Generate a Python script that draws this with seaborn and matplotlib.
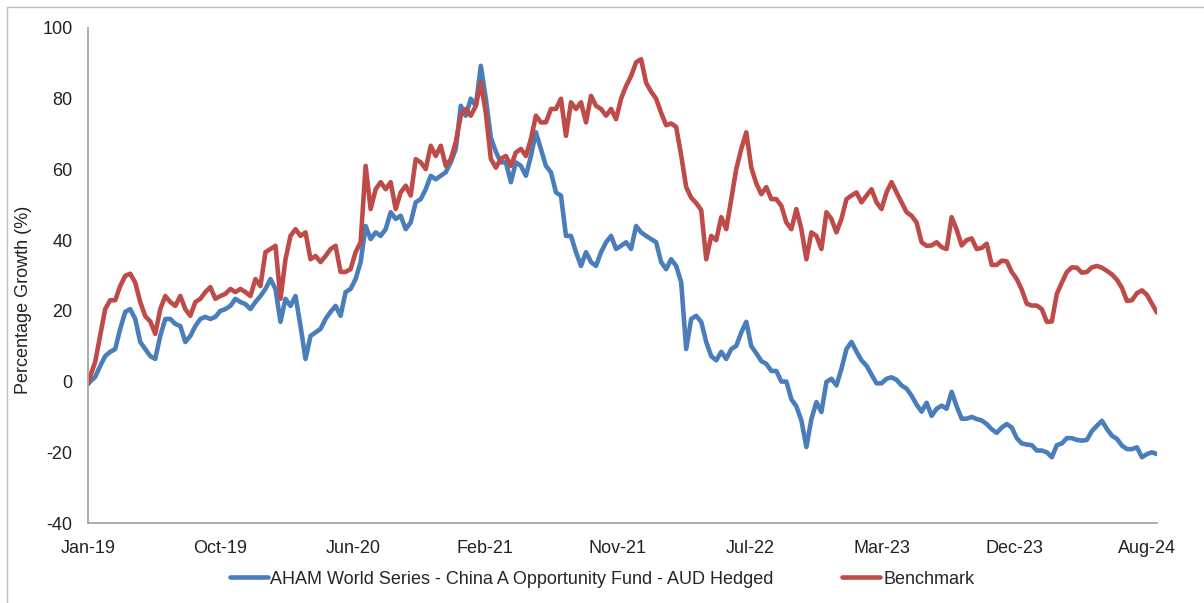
import numpy as np
import pandas as pd
import matplotlib
matplotlib.use("Agg")
import matplotlib.pyplot as plt
from matplotlib.lines import Line2D
import seaborn as sns

# --- data (percentage growth, one reading roughly every 7 trading days) ---
fund_name = "AHAM World Series - China A Opportunity Fund - AUD Hedged"
bench_name = "Benchmark"

fund_vals = [
    -0.7,
    0.0, 1.3, 4.4, 7.2, 8.4, 9.2, 14.9, 19.7, 20.5, 17.7,
    11.2, 9.2, 7.2, 6.4, 12.9, 17.7, 17.7, 16.3, 15.7, 11.2,
    12.9, 15.7, 17.7, 18.3, 17.7, 18.3, 20.0, 20.5, 21.4, 23.4,
    22.5, 21.9, 20.5, 22.5, 24.2, 26.2, 29.0, 26.2, 16.9, 23.4,
    21.4, 24.2, 15.7, 6.4, 12.9, 13.9, 14.9, 17.7, 19.7, 21.4,
    18.6, 25.3, 26.2, 29.0, 33.8, 44.0, 40.3, 42.2, 41.2, 43.1,
    47.9, 46.0, 46.9, 43.1, 45.0, 50.7, 51.6, 54.4, 58.2, 57.2,
    58.2, 59.2, 62.0, 65.8, 78.0, 75.2, 80.0, 78.0, 89.3, 80.0,
    69.0, 65.0, 62.0, 62.0, 56.4, 62.0, 61.0, 58.2, 63.8, 70.5,
    65.8, 61.0, 59.2, 53.5, 52.6, 41.2, 41.2, 36.6, 32.7, 36.6,
    33.8, 32.7, 36.6, 39.4, 41.2, 37.5, 38.4, 39.4, 37.5, 44.0,
    42.2, 41.2, 40.3, 39.4, 33.8, 31.8, 34.6, 32.7, 28.1, 9.2,
    17.7, 18.6, 16.9, 11.2, 7.2, 6.0, 8.4, 6.4, 9.2, 10.1,
    13.9, 16.9, 10.0, 8.0, 5.8, 5.0, 3.0, 3.0, 0.0, 0.0,
    -5.0, -7.0, -11.0, -18.5, -10.6, -5.8, -8.6, -0.1, 0.8, -1.1,
    3.6, 9.2, 11.2, 8.5, 6.0, 4.5, 2.0, -0.5, -0.5, 0.8,
    1.2, 0.5, -1.1, -2.0, -4.0, -6.5, -8.5, -6.0, -9.7, -7.7,
    -6.8, -7.7, -2.9, -7.0, -10.5, -10.5, -10.0, -10.6, -11.0, -12.0,
    -13.5, -14.5, -13.0, -12.0, -13.0, -16.0, -17.5, -17.8, -18.0, -19.5,
    -19.5, -20.0, -21.4, -18.0, -17.5, -16.0, -16.0, -16.5, -16.7, -16.5,
    -14.0, -12.5, -11.1, -13.4, -15.3, -16.2, -18.1, -19.1, -19.1, -18.6,
    -21.4, -20.5, -20.0, -20.5,
]

bench_vals = [
    -0.7,
    1.5, 5.5, 13.0, 20.5, 23.0, 23.0, 27.0, 29.9, 30.5, 28.0,
    22.5, 18.5, 17.0, 13.5, 20.5, 24.2, 22.5, 21.4, 24.2, 20.5,
    18.6, 22.5, 23.4, 25.3, 26.7, 23.4, 24.2, 24.8, 26.2, 25.3,
    26.2, 25.3, 24.2, 29.0, 27.0, 36.6, 37.5, 38.4, 23.4, 34.6,
    41.2, 43.1, 41.2, 42.2, 34.6, 35.5, 33.8, 35.5, 37.5, 38.4,
    31.0, 31.0, 31.8, 36.6, 39.4, 61.0, 48.8, 54.4, 56.4, 54.4,
    56.4, 48.8, 53.5, 55.4, 52.6, 62.9, 62.0, 60.1, 66.7, 63.8,
    66.7, 61.0, 62.9, 67.7, 75.2, 77.1, 75.2, 78.0, 84.6, 76.0,
    63.0, 60.5, 63.0, 63.8, 61.0, 64.8, 65.8, 63.8, 68.6, 75.2,
    73.3, 73.3, 77.1, 77.1, 80.0, 69.5, 79.0, 77.1, 79.0, 73.3,
    80.8, 78.0, 77.1, 75.2, 77.1, 74.2, 80.0, 83.6, 86.4, 90.3,
    91.2, 84.5, 82.0, 80.0, 76.0, 72.5, 73.0, 72.0, 64.0, 55.0,
    52.0, 50.5, 48.5, 34.6, 41.2, 40.0, 46.5, 43.1, 51.6, 60.1,
    65.8, 70.5, 60.5, 56.0, 53.0, 55.0, 51.6, 51.6, 49.7, 45.0,
    43.1, 48.8, 43.1, 34.6, 42.2, 41.2, 37.5, 47.9, 46.0, 42.2,
    46.0, 51.6, 52.6, 53.5, 50.7, 52.6, 54.4, 50.7, 48.8, 53.5,
    56.4, 53.5, 50.7, 47.9, 46.9, 45.0, 39.4, 38.4, 38.5, 39.4,
    38.0, 37.5, 46.5, 43.0, 38.5, 40.0, 40.5, 37.5, 37.8, 39.0,
    33.0, 33.0, 34.2, 34.0, 31.0, 29.0, 26.0, 22.0, 21.5, 21.5,
    20.5, 16.9, 17.0, 24.8, 28.0, 31.0, 32.3, 32.2, 30.8, 31.0,
    32.3, 32.7, 32.2, 31.3, 30.3, 28.8, 26.5, 22.8, 23.0, 25.0,
    25.8, 24.5, 22.0, 19.5,
]

# trading-day index of each reading
days = np.r_[0, 3 + 7 * np.arange(len(fund_vals) - 1)]

tick_labels = ["Jan-19", "Oct-19", "Jun-20", "Feb-21", "Nov-21",
               "Jul-22", "Mar-23", "Dec-23", "Aug-24"]
tick_step = 185  # trading days between labels

df = pd.concat([
    pd.DataFrame({"day": days, "growth": fund_vals, "series": fund_name}),
    pd.DataFrame({"day": days, "growth": bench_vals, "series": bench_name}),
])

palette = {fund_name: "#4A7EBB", bench_name: "#BE4B48"}

sns.set_theme(style="white")
plt.rcParams["font.family"] = ["Liberation Sans", "DejaVu Sans"]
plt.rcParams["axes.unicode_minus"] = False

fig = plt.figure(figsize=(12.04, 6.03), dpi=100)
ax = fig.add_axes([88 / 1204, 1 - 523 / 603, (1157 - 88) / 1204, (523 - 28) / 603])

sns.lineplot(data=df, x="day", y="growth", hue="series", palette=palette,
             estimator=None, linewidth=3.3, ax=ax, legend=True)

ax.set_xlim(0, days[-1])
ax.set_ylim(-40, 100)
ax.set_yticks(np.arange(-40, 101, 20))
ax.set_xticks(np.arange(len(tick_labels)) * tick_step)
ax.set_xticklabels(tick_labels)
ax.tick_params(axis="both", length=0, labelsize=13, colors="#222222")
ax.tick_params(axis="x", pad=12)
ax.tick_params(axis="y", pad=11)

ax.set_xlabel("")
ax.set_ylabel("Percentage Growth (%)", fontsize=13, color="#222222")
ax.yaxis.set_label_coords(-0.052, 0.45)

for side in ["top", "right"]:
    ax.spines[side].set_visible(False)
for side in ["left", "bottom"]:
    ax.spines[side].set_color("#A6A6A6")
    ax.spines[side].set_linewidth(1.3)

handles, labels = ax.get_legend_handles_labels()
ax.get_legend().remove()
fig.legend(handles, labels, loc="center", bbox_to_anchor=(0.5, 1 - 579 / 603),
           ncol=2, frameon=False, fontsize=13, handlelength=2.1,
           handletextpad=0.15, columnspacing=3.8)

# thin frame lines of the original screenshot
fig.add_artist(Line2D([7 / 1204, 1], [1 - 7 / 603, 1 - 7 / 603], color="#BFBFBF", lw=1))
fig.add_artist(Line2D([7 / 1204, 7 / 1204], [0, 1 - 7 / 603], color="#BFBFBF", lw=1))

fig.savefig("out.png", dpi=100)
